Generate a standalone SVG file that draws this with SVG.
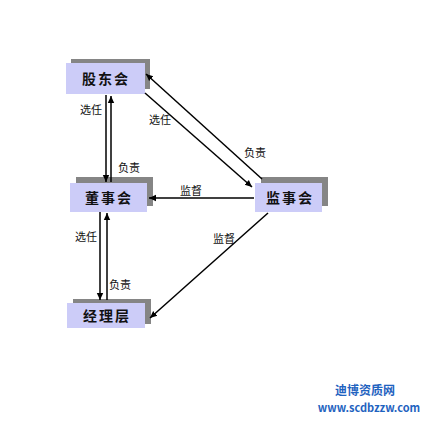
<svg xmlns="http://www.w3.org/2000/svg" width="427" height="421" viewBox="0 0 427 421">
<defs>
<marker id="ah" markerWidth="8" markerHeight="8" refX="7" refY="4" orient="auto" markerUnits="userSpaceOnUse">
<path d="M0,0.8 L7,4 L0,7.2 Z" fill="#000"/>
</marker>
<style>
.shadow{fill:#858585}
.box{fill:#ccccf8}
.nt{font-family:"Noto Sans CJK SC","Noto Sans CJK JP",sans-serif;font-size:14px;font-weight:bold;fill:#111;text-anchor:middle;letter-spacing:2px}
.lb{font-family:"Noto Sans CJK SC","Noto Sans CJK JP",sans-serif;font-size:11px;fill:#111;text-anchor:middle}
.ln{stroke:#000;stroke-width:1.5;fill:none;marker-end:url(#ah)}
.wm{font-family:"Noto Sans CJK SC","Liberation Sans",sans-serif;font-weight:bold;fill:#1f63c0;text-anchor:middle}
</style>
</defs>
<rect width="427" height="421" fill="#fff"/>
<g id="gudonghui">
<rect class="shadow" x="71" y="59" width="79" height="30"/>
<rect class="box" x="66" y="63" width="79" height="31"/>
<text class="nt" x="106" y="84">股东会</text>
</g>
<g id="dongshihui">
<rect class="shadow" x="76" y="177" width="77" height="29"/>
<rect class="box" x="70" y="183" width="77" height="29"/>
<text class="nt" x="109" y="203">董事会</text>
</g>
<g id="jianshihui">
<rect class="shadow" x="261" y="177" width="67" height="29"/>
<rect class="box" x="255" y="183" width="67" height="29"/>
<text class="nt" x="290" y="203">监事会</text>
</g>
<g id="jinglice">
<rect class="shadow" x="73" y="299" width="78" height="25"/>
<rect class="box" x="67" y="303" width="78" height="25"/>
<text class="nt" x="107" y="321">经理层</text>
</g>
<g id="connectors">
<line class="ln" x1="106" y1="95" x2="106" y2="182"/>
<line class="ln" x1="111" y1="182" x2="111" y2="96"/>
<line class="ln" x1="100" y1="212" x2="100" y2="300"/>
<line class="ln" x1="107" y1="300" x2="107" y2="213"/>
<line class="ln" x1="145" y1="93" x2="252" y2="187"/>
<line class="ln" x1="262" y1="179" x2="146" y2="74"/>
<line class="ln" x1="254" y1="198" x2="149" y2="198"/>
<line class="ln" x1="268" y1="213" x2="150" y2="318"/>
<text class="lb" x="91" y="114">选任</text>
<text class="lb" x="129" y="172">负责</text>
<text class="lb" x="160" y="124">选任</text>
<text class="lb" x="255" y="157">负责</text>
<text class="lb" x="191" y="195">监督</text>
<text class="lb" x="224" y="243">监督</text>
<text class="lb" x="86" y="241">选任</text>
<text class="lb" x="120" y="289">负责</text>
</g>
<text class="wm" x="365" y="395" font-size="12">迪博资质网</text>
<text class="wm" x="369" y="412" font-size="11">www.scdbzzw.com</text>
</svg>
